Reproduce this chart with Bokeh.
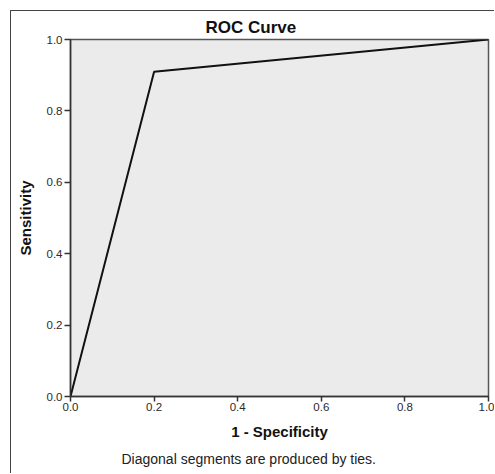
from bokeh.plotting import figure
from bokeh.models import Title, FixedTicker, NumeralTickFormatter, Range1d
from bokeh.embed import file_html
from bokeh.resources import INLINE

# ROC curve points
fpr = [0.0, 0.2, 1.0]          # 1 - Specificity
tpr = [0.0, 0.91, 1.0]         # Sensitivity
ticks = [0.0, 0.2, 0.4, 0.6, 0.8, 1.0]

FONT = "Liberation Sans"

p = figure(width=484, height=463, output_backend="svg", toolbar_location=None,
           x_range=Range1d(0, 1), y_range=Range1d(0, 1),
           min_border_left=59, min_border_right=7, min_border_top=28, min_border_bottom=78)

p.background_fill_color = "#ebebeb"
p.border_fill_color = "white"
p.outline_line_color = "#555555"
p.outline_line_width = 1.5
p.xgrid.visible = False
p.ygrid.visible = False

p.line(fpr, tpr, line_color="#111111", line_width=2)

for ax in (p.xaxis[0], p.yaxis[0]):
    ax.ticker = FixedTicker(ticks=ticks)
    ax.formatter = NumeralTickFormatter(format="0.0")
    ax.minor_tick_line_color = None
    ax.major_tick_in = 0
    ax.major_tick_line_color = "#333333"
    ax.major_tick_line_width = 1.5
    ax.axis_line_color = "#333333"
    ax.axis_line_width = 1.5
    ax.major_label_text_font = FONT
    ax.major_label_text_font_size = "11.5px"
    ax.major_label_text_color = "#2a2a2a"
    ax.axis_label_text_font = FONT
    ax.axis_label_text_font_size = "15px"
    ax.axis_label_text_font_style = "bold"
    ax.axis_label_text_color = "#111111"

p.xaxis.axis_label = "1 - Specificity"
p.yaxis.axis_label = "Sensitivity"
p.xaxis.major_tick_out = 5
p.yaxis.major_tick_out = 6
p.xaxis.major_label_standoff = 1
p.yaxis.major_label_standoff = 2
p.xaxis.axis_label_standoff = 9
p.yaxis.axis_label_standoff = 10

p.title.text = "ROC Curve"
p.title.align = "left"
p.title.text_font = FONT
p.title.text_font_size = "17px"
p.title.text_font_style = "bold"
p.title.text_color = "#111111"
p.title.offset = 135
p.title.standoff = 5

note = Title(text="Diagonal segments are produced by ties.", align="left",
             text_font=FONT, text_font_size="14px", text_font_style="normal",
             text_color="#222222", offset=51, standoff=12)
p.add_layout(note, "below")

p.styles = {"margin-left": "10px", "margin-top": "10px",
            "border-left": "1px solid #444444", "border-top": "1px solid #444444"}

open("out.html", "w").write(file_html(p, INLINE))
